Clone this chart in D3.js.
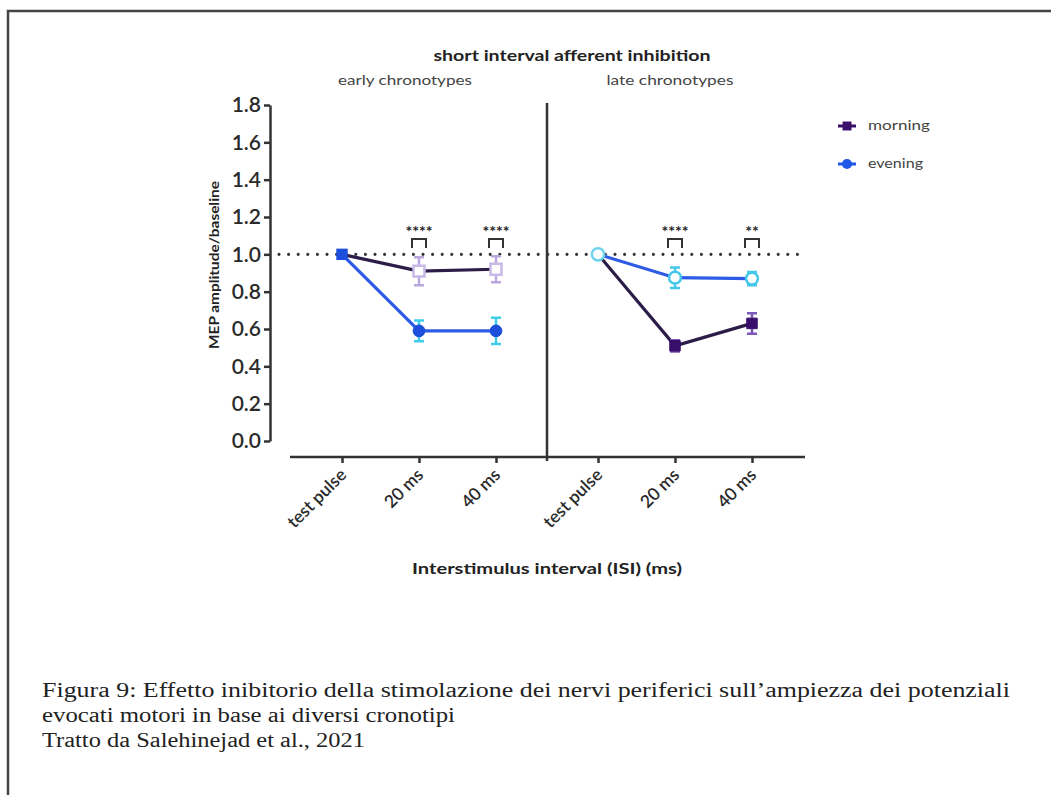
<!DOCTYPE html>
<html>
<head>
<meta charset="utf-8">
<script src="https://cdn.jsdelivr.net/npm/d3@7"></script>
<style>
  body { margin: 0; background: #fff; }
  svg { display: block; }
</style>
</head>
<body>
<div id="chart"></div>
<script>
// data
var isiLabels = ["test pulse", "20 ms", "40 ms"]
var yTicks = [0, 0.2, 0.4, 0.6, 0.8, 1.0, 1.2, 1.4, 1.6, 1.8]

var earlyMorning = [1.0, 0.91, 0.92]
var earlyMorningErr = [0, 0.075, 0.07]
var earlyEvening = [1.0, 0.59, 0.59]
var earlyEveningErr = [0, 0.055, 0.07]

var lateMorning = [1.0, 0.51, 0.63]
var lateMorningErr = [0, 0.03, 0.055]
var lateEvening = [1.0, 0.875, 0.87]
var lateEveningErr = [0, 0.055, 0.035]

var earlyStars = ["****", "****"]
var lateStars = ["****", "**"]

var captionLines = [
  "Figura 9: Effetto inibitorio della stimolazione dei nervi periferici sull\u2019ampiezza dei potenziali",
  "evocati motori in base ai diversi cronotipi",
  "Tratto da Salehinejad et al., 2021"
]

var width = 1051,
    height = 795

var svg = d3.select("#chart")
  .append("svg")
    .attr("width", width)
    .attr("height", height)

svg.append("rect").attr("width", width).attr("height", height).attr("fill", "#fff")

// page border (top and left only)
svg.append("path")
  .attr("d", "M8,795 L8,11 L1051,11")
  .attr("fill", "none")
  .attr("stroke", "#444")
  .attr("stroke-width", 2.5)

// the source picture is stretched sideways, so widths are forced on the texts
function label(x, yy, txt, size, weight, len, fill) {
  var t = svg.append("text")
    .attr("x", x).attr("y", yy)
    .attr("text-anchor", "middle")
    .style("font-family", "Lato")
    .style("font-weight", weight)
    .style("font-size", size + "px")
    .attr("fill", fill || "#222")
    .text(txt)
  if (len) t.attr("textLength", len).attr("lengthAdjust", "spacingAndGlyphs")
  return t
}

// scales
var y = d3.scaleLinear().domain([0, 1.8]).range([441, 105])
var xEarly = d3.scalePoint().domain(isiLabels).range([342, 496])
var xLate = d3.scalePoint().domain(isiLabels).range([598, 752])

var ink = "#333"

// y axis
var yAxis = svg.append("g")
  .attr("transform", "translate(270,0)")
  .call(d3.axisLeft(y).tickValues(yTicks).tickFormat(d3.format(".1f")).tickSize(6).tickSizeOuter(0).tickPadding(3))
yAxis.selectAll("path, line").attr("stroke", ink).attr("stroke-width", 2.5)
yAxis.selectAll("text")
  .attr("fill", "#2a2a2a")
  .style("font-family", "Lato")
  .style("font-weight", "600")
  .style("font-size", "21px")

label(0, 0, "MEP amplitude/baseline", 13, "bold", 168)
  .attr("x", null).attr("y", null)
  .attr("transform", "translate(219,265) rotate(-90)")

// x axis
var xBase = 457
svg.append("line")
  .attr("x1", 290).attr("x2", 805)
  .attr("y1", xBase).attr("y2", xBase)
  .attr("stroke", ink).attr("stroke-width", 2.5)

;[xEarly, xLate].forEach(function(xs) {
  var ax = svg.append("g")
    .attr("transform", "translate(0," + xBase + ")")
    .call(d3.axisBottom(xs).tickSize(6).tickSizeOuter(0))
  ax.select(".domain").remove()
  ax.selectAll("line").attr("stroke", ink).attr("stroke-width", 2.5)
  ax.selectAll("text")
    .attr("fill", "#2a2a2a")
    .attr("text-anchor", "end")
    .attr("dy", 0)
    .attr("y", 0)
    .attr("transform", "translate(5,19) rotate(-45)")
    .style("font-family", "Lato")
    .style("font-weight", "600")
    .style("font-size", "17.5px")
})

label(547, 574, "Interstimulus interval (ISI) (ms)", 15, "bold", 270)

// panel separator
svg.append("line")
  .attr("x1", 547).attr("x2", 547)
  .attr("y1", 103).attr("y2", xBase + 4)
  .attr("stroke", ink).attr("stroke-width", 2.5)

// reference line at 1.0
svg.append("line")
  .attr("x1", 279).attr("x2", 805)
  .attr("y1", y(1)).attr("y2", y(1))
  .attr("stroke", "#333")
  .attr("stroke-width", 3.2)
  .attr("stroke-linecap", "round")
  .attr("stroke-dasharray", "0,9.6")

// titles
label(572, 61, "short interval afferent inhibition", 15, "bold", 277)
label(405, 85, "early chronotypes", 13, "normal", 134, "#444")
label(670, 85, "late chronotypes", 13, "normal", 127, "#444")

// series drawing
var line = function(xs) {
  return d3.line()
    .x(function(d, i) { return xs(isiLabels[i]) })
    .y(function(d) { return y(d) })
}

function drawSeries(xs, vals, errs, st) {
  var g = svg.append("g")
  g.append("path")
    .datum(vals)
    .attr("d", line(xs))
    .attr("fill", "none")
    .attr("stroke", st.line)
    .attr("stroke-width", 3.2)

  var pts = vals.map(function(v, i) { return { k: isiLabels[i], v: v, e: errs[i] } })
    .filter(function(d) { return d.e > 0 })

  // error bars
  g.selectAll(".eb")
    .data(pts)
    .enter()
    .append("path")
    .attr("d", function(d) {
      var cx = xs(d.k), y0 = y(d.v - d.e), y1 = y(d.v + d.e)
      return "M" + cx + "," + y0 + "V" + y1 +
        "M" + (cx - 5) + "," + y0 + "H" + (cx + 5) +
        "M" + (cx - 5) + "," + y1 + "H" + (cx + 5)
    })
    .attr("fill", "none")
    .attr("stroke", st.err)
    .attr("stroke-width", 2.5)

  // markers
  var sym = d3.symbol().type(st.shape).size(st.size)
  g.selectAll(".mk")
    .data(pts)
    .enter()
    .append("path")
    .attr("d", sym)
    .attr("transform", function(d) { return "translate(" + xs(d.k) + "," + y(d.v) + ")" })
    .attr("fill", st.fill)
    .attr("stroke", st.stroke)
    .attr("stroke-width", st.sw)
}

var purpleLine = "#2c1d48",
    blueLine = "#2d5be6"

drawSeries(xEarly, earlyMorning, earlyMorningErr,
  { line: purpleLine, err: "#b9a6dc", shape: d3.symbolSquare, size: 120, fill: "#fff", stroke: "#c9b9e6", sw: 2.5 })
drawSeries(xEarly, earlyEvening, earlyEveningErr,
  { line: blueLine, err: "#3fcdeb", shape: d3.symbolCircle, size: 110, fill: "#1c4fdc", stroke: "#1c4fdc", sw: 1 })
drawSeries(xLate, lateMorning, lateMorningErr,
  { line: purpleLine, err: "#7c58b8", shape: d3.symbolSquare, size: 110, fill: "#3a0f6b", stroke: "#3a0f6b", sw: 1 })
drawSeries(xLate, lateEvening, lateEveningErr,
  { line: blueLine, err: "#45c8e8", shape: d3.symbolCircle, size: 110, fill: "#fff", stroke: "#45c8e8", sw: 2.5 })

// baseline (test pulse) markers
svg.append("path")
  .attr("d", d3.symbol().type(d3.symbolSquare).size(130))
  .attr("transform", "translate(" + xEarly(isiLabels[0]) + "," + y(earlyEvening[0]) + ")")
  .attr("fill", "#1c4fdc")
svg.append("path")
  .attr("d", d3.symbol().type(d3.symbolCircle).size(120))
  .attr("transform", "translate(" + xLate(isiLabels[0]) + "," + y(lateEvening[0]) + ")")
  .attr("fill", "#fff")
  .attr("stroke", "#6fd3ee")
  .attr("stroke-width", 2.5)

// significance brackets
function drawStars(xs, stars) {
  stars.forEach(function(s, i) {
    var cx = xs(isiLabels[i + 1])
    svg.append("path")
      .attr("d", "M" + (cx - 7) + ",248 V239 H" + (cx + 7) + " V248")
      .attr("fill", "none")
      .attr("stroke", "#333")
      .attr("stroke-width", 2)
    label(cx, 237, s, 16, "bold")
  })
}
drawStars(xEarly, earlyStars)
drawStars(xLate, lateStars)

// legend
var legend = [
  { name: "morning", color: "#3a0f6b", shape: d3.symbolSquare, len: 62 },
  { name: "evening", color: "#1f55e8", shape: d3.symbolCircle, len: 55 }
]
var lg = svg.selectAll(".lg")
  .data(legend)
  .enter()
  .append("g")
  .attr("transform", function(d, i) { return "translate(847," + (126 + i * 38) + ")" })
lg.append("line")
  .attr("x1", -9).attr("x2", 9)
  .attr("stroke", function(d) { return d.color })
  .attr("stroke-width", 3)
lg.append("path")
  .attr("d", function(d) { return d3.symbol().type(d.shape).size(80)() })
  .attr("fill", function(d) { return d.color })
lg.append("text")
  .attr("x", 21).attr("y", 4)
  .attr("textLength", function(d) { return d.len })
  .attr("lengthAdjust", "spacingAndGlyphs")
  .style("font-family", "Lato")
  .style("font-size", "12.5px")
  .attr("fill", "#444")
  .text(function(d) { return d.name })

// caption
var captionLen = [968, 413, 323]
svg.selectAll(".cap")
  .data(captionLines)
  .enter()
  .append("text")
  .attr("x", 42)
  .attr("y", function(d, i) { return 697 + i * 25 })
  .attr("textLength", function(d, i) { return captionLen[i] })
  .attr("lengthAdjust", "spacingAndGlyphs")
  .style("font-family", "Liberation Serif")
  .style("font-size", "20px")
  .attr("fill", "#222")
  .text(function(d) { return d })
</script>
</body>
</html>
